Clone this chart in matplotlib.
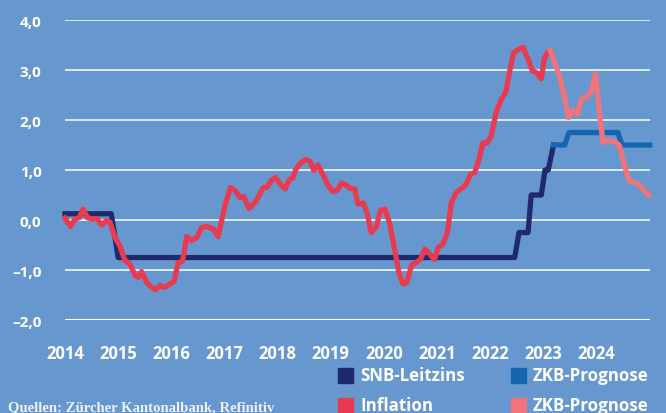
import matplotlib
matplotlib.use("Agg")
import matplotlib.pyplot as plt
from matplotlib.patches import Rectangle

# Daten (Jahr als Dezimalzahl, Werte in %)
snb_t = [2014.0, 2014.87, 2015.0, 2022.46, 2022.54, 2022.71, 2022.77,
         2022.96, 2023.03, 2023.09, 2023.19]
snb_v = [0.125, 0.125, -0.75, -0.75, -0.25, -0.25, 0.5, 0.5, 1.0, 1.0, 1.5]

zkb_t = [2023.19, 2023.4, 2023.48, 2024.4, 2024.48, 2025.0]
zkb_v = [1.5, 1.5, 1.75, 1.75, 1.5, 1.5]

infl_t = [2014.0, 2014.1, 2014.19, 2014.27, 2014.34, 2014.42, 2014.52, 2014.6,
          2014.69, 2014.78, 2014.85, 2014.94, 2015.03, 2015.13, 2015.22, 2015.32,
          2015.38, 2015.44, 2015.54, 2015.63, 2015.71, 2015.79, 2015.88, 2015.97,
          2016.05, 2016.13, 2016.21, 2016.29, 2016.38, 2016.48, 2016.57, 2016.66,
          2016.79, 2016.88, 2017.01, 2017.11, 2017.2, 2017.29, 2017.36, 2017.46,
          2017.57, 2017.63, 2017.73, 2017.8, 2017.88, 2017.96, 2018.05, 2018.14,
          2018.22, 2018.28, 2018.34, 2018.43, 2018.53, 2018.61, 2018.68, 2018.76,
          2018.86, 2018.95, 2019.04, 2019.12, 2019.2, 2019.3, 2019.37, 2019.45,
          2019.51, 2019.61, 2019.68, 2019.76, 2019.86, 2019.93, 2020.02, 2020.11,
          2020.2, 2020.28, 2020.36, 2020.43, 2020.52, 2020.61, 2020.69, 2020.77,
          2020.86, 2020.95, 2021.02, 2021.11, 2021.19, 2021.27, 2021.36, 2021.46,
          2021.55, 2021.63, 2021.71, 2021.79, 2021.86, 2021.94, 2022.02, 2022.11,
          2022.21, 2022.29, 2022.36, 2022.44, 2022.54, 2022.62, 2022.71, 2022.79,
          2022.88, 2022.96, 2023.02, 2023.08, 2023.13]
infl_v = [0.04, -0.13, 0.02, 0.05, 0.22, 0.05, 0.02, 0.03,
          -0.1, -0.01, -0.05, -0.35, -0.51, -0.81, -0.88, -1.11,
          -1.15, -1.03, -1.25, -1.35, -1.39, -1.31, -1.35, -1.28,
          -1.23, -0.85, -0.83, -0.33, -0.41, -0.35, -0.15, -0.13,
          -0.18, -0.33, 0.29, 0.65, 0.59, 0.45, 0.47, 0.23,
          0.35, 0.45, 0.65, 0.65, 0.79, 0.85, 0.72, 0.62,
          0.81, 0.83, 1.01, 1.14, 1.21, 1.17, 0.99, 1.1,
          0.89, 0.69, 0.57, 0.59, 0.74, 0.69, 0.63, 0.62,
          0.32, 0.34, 0.15, -0.25, -0.13, 0.19, 0.22, -0.08,
          -0.58, -1.05, -1.28, -1.25, -0.9, -0.85, -0.78, -0.58,
          -0.68, -0.79, -0.55, -0.48, -0.26, 0.35, 0.55, 0.63,
          0.72, 0.92, 0.95, 1.22, 1.54, 1.54, 1.69, 2.15,
          2.42, 2.55, 2.95, 3.35, 3.42, 3.45, 3.22, 2.99,
          2.94, 2.82, 3.25, 3.35, 3.39]

prog_t = [2023.13, 2023.21, 2023.3, 2023.39, 2023.47, 2023.55, 2023.64, 2023.71,
          2023.79, 2023.87, 2023.92, 2023.98, 2024.04, 2024.12, 2024.21, 2024.34,
          2024.43, 2024.51, 2024.61, 2024.71, 2024.81, 2024.9, 2024.98]
prog_v = [3.39, 3.15, 2.89, 2.49, 2.05, 2.19, 2.12, 2.41,
          2.45, 2.52, 2.65, 2.92, 2.29, 1.55, 1.59, 1.57,
          1.49, 1.15, 0.79, 0.75, 0.69, 0.59, 0.49]

years = list(range(2014, 2025))
y_ticks = [-2, -1, 0, 1, 2, 3, 4]
y_labels = ['–2,0', '–1,0', '0,0', '1,0', '2,0', '3,0', '4,0']

legend_items = [('SNB-Leitzins', '#1f2a6c'), ('ZKB-Prognose', '#1565b0'),
                ('Inflation', '#e83b50'), ('ZKB-Prognose', '#f07479')]

bg = '#6698cf'
plt.rcParams['font.family'] = ['Open Sans', 'DejaVu Sans']

fig = plt.figure(figsize=(6.66, 4.14), dpi=100, facecolor=bg)
ax = fig.add_axes([0.0976, 0.2246, 0.878, 0.7246], facecolor=bg)

for v in y_ticks:
    ax.axhline(v, color='white', lw=2.2 if v == -2 else 1.1, zorder=1)

lw = 3.8
ax.plot(snb_t, snb_v, color=legend_items[0][1], lw=lw, solid_joinstyle='round', zorder=3, clip_on=False)
ax.plot(zkb_t, zkb_v, color=legend_items[1][1], lw=lw, solid_joinstyle='round', zorder=4, clip_on=False)
ax.plot(infl_t, infl_v, color=legend_items[2][1], lw=lw, solid_joinstyle='round', zorder=5, clip_on=False)
ax.plot(prog_t, prog_v, color=legend_items[3][1], lw=lw, solid_joinstyle='round', zorder=6, clip_on=False)

ax.set_xlim(2014, 2025)
ax.set_ylim(-2, 4)
for s in ax.spines.values():
    s.set_visible(False)
ax.set_xticks(years)
ax.set_xticklabels([str(y) for y in years], fontsize=12, fontweight='bold', color='white')
ax.set_yticks(y_ticks)
ax.set_yticklabels(y_labels, fontsize=11, fontweight='bold', color='white')
ax.tick_params(axis='both', length=0)
ax.tick_params(axis='x', pad=17)
ax.tick_params(axis='y', pad=17)

# Legende
W, H = 666, 414
pos = [(338, 376), (511, 376), (338, 406), (511, 406)]
for (name, col), (px, py) in zip(legend_items, pos):
    fig.add_artist(Rectangle((px / W, (H - py - 7.5) / H), 15 / W, 15 / H,
                             transform=fig.transFigure, color=col))
    fig.text((px + 22) / W, (H - py) / H, name, fontsize=12.2, fontweight='bold',
             color='white', va='center', ha='left')

fig.text(8 / W, (H - 408) / H, 'Quellen: Zürcher Kantonalbank, Refinitiv',
         family=['Liberation Serif', 'DejaVu Serif'], fontsize=10.6, fontweight='bold',
         color='#eef2f8', va='center', ha='left')

fig.savefig('out.png', dpi=100, facecolor=bg)
